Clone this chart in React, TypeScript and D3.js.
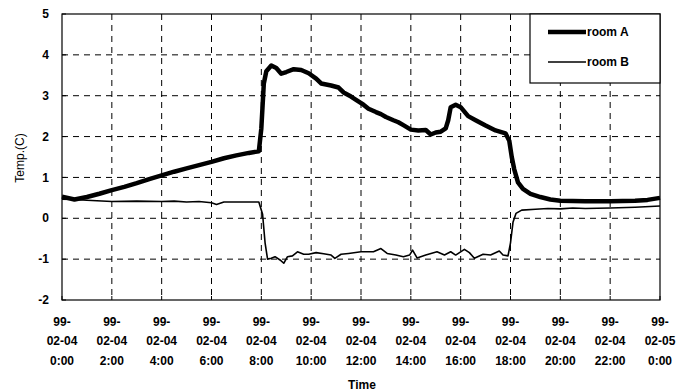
import React from "react";
import * as d3 from "d3";

const hoursA = [0,0.5,1,1.5,2,2.5,3,3.5,4,4.5,5,5.5,6,6.5,7,7.5,7.9,8.0,8.1,8.2,8.4,8.6,8.8,9.0,9.3,9.6,9.9,10.2,10.4,10.8,11.1,11.3,11.6,11.8,12.1,12.3,12.6,12.8,13.0,13.3,13.5,13.7,14.0,14.3,14.6,14.8,15.0,15.2,15.4,15.5,15.6,15.8,16.0,16.3,16.6,17.0,17.4,17.8,17.95,18.05,18.15,18.3,18.5,18.8,19.2,19.6,20,21,22,23,23.5,24];
const roomA = [0.53,0.46,0.52,0.6,0.69,0.77,0.86,0.96,1.05,1.14,1.22,1.3,1.38,1.47,1.54,1.6,1.64,2.2,3.3,3.6,3.74,3.68,3.54,3.58,3.65,3.63,3.55,3.42,3.3,3.25,3.2,3.08,2.98,2.9,2.78,2.68,2.6,2.55,2.48,2.4,2.35,2.28,2.17,2.15,2.16,2.05,2.1,2.12,2.2,2.4,2.72,2.78,2.72,2.5,2.4,2.27,2.15,2.08,1.9,1.5,1.2,0.88,0.72,0.6,0.52,0.46,0.43,0.42,0.42,0.43,0.45,0.5];

const hoursB = [0,0.5,1,2,3,4,4.5,5,5.5,6.0,6.2,6.5,7,7.5,7.9,8.05,8.15,8.25,8.4,8.55,8.75,8.9,9.05,9.25,9.45,9.7,9.9,10.2,10.5,10.8,10.95,11.2,11.5,12.0,12.5,12.8,13.05,13.4,13.7,13.95,14.07,14.25,14.6,15.05,15.35,15.6,15.8,16.15,16.35,16.55,16.9,17.2,17.55,17.7,17.9,18.0,18.1,18.22,18.45,19,19.5,20,20.5,21,22,23,24];
const roomB = [0.47,0.46,0.44,0.41,0.42,0.41,0.42,0.4,0.41,0.38,0.34,0.4,0.4,0.4,0.4,0.1,-0.6,-1.0,-0.98,-0.94,-1.02,-1.1,-0.94,-0.92,-0.82,-0.88,-0.88,-0.84,-0.87,-0.9,-0.98,-0.88,-0.86,-0.82,-0.82,-0.74,-0.86,-0.9,-0.94,-0.9,-0.78,-0.97,-0.9,-0.82,-0.9,-0.82,-0.9,-0.76,-0.84,-0.98,-0.88,-0.9,-0.8,-0.9,-0.92,-0.6,-0.1,0.12,0.2,0.22,0.24,0.23,0.25,0.24,0.25,0.27,0.3];

const xTickHours = [0,2,4,6,8,10,12,14,16,18,20,22,24];
const xTickYear = ["99-","99-","99-","99-","99-","99-","99-","99-","99-","99-","99-","99-","99-"];
const xTickDate = ["02-04","02-04","02-04","02-04","02-04","02-04","02-04","02-04","02-04","02-04","02-04","02-04","02-05"];
const xTickTime = ["0:00","2:00","4:00","6:00","8:00","10:00","12:00","14:00","16:00","18:00","20:00","22:00","0:00"];
const yTicks = [-2,-1,0,1,2,3,4,5];
const seriesNames = ["room A","room B"];

export default function App() {
  const left = 62, right = 660, top = 14, bottom = 300;
  const x = d3.scaleLinear().domain([0, 24]).range([left, right]);
  const y = d3.scaleLinear().domain([-2, 5]).range([bottom, top]);
  const lineA = d3.line<number>().x((_, i) => x(hoursA[i])).y((d) => y(d));
  const lineB = d3.line<number>().x((_, i) => x(hoursB[i])).y((d) => y(d));
  const font = "'Liberation Sans', Arial, sans-serif";

  return (
    <svg width={681} height={392} style={{ position: "absolute", left: 0, top: 0, background: "#fff" }} fontFamily={font}>
      <rect x={0} y={0} width={681} height={392} fill="#fff" />
      {/* grid */}
      {yTicks.filter((t) => t > -2 && t < 5).map((t) => (
        <line key={"gy" + t} x1={left} x2={right} y1={y(t)} y2={y(t)} stroke="#000" strokeWidth={1} strokeDasharray="6,5" />
      ))}
      {xTickHours.filter((h) => h > 0 && h < 24).map((h) => (
        <line key={"gx" + h} x1={x(h)} x2={x(h)} y1={top} y2={bottom} stroke="#000" strokeWidth={1} strokeDasharray="6,5" />
      ))}
      {/* frame */}
      <rect x={left} y={top} width={right - left} height={bottom - top} fill="none" stroke="#000" strokeWidth={1.2} />
      {/* ticks */}
      {xTickHours.map((h) => (
        <line key={"tx" + h} x1={x(h)} x2={x(h)} y1={bottom} y2={bottom - 4} stroke="#000" />
      ))}
      {yTicks.map((t) => (
        <line key={"ty" + t} x1={left} x2={left + 4} y1={y(t)} y2={y(t)} stroke="#000" />
      ))}
      {/* lines */}
      <path d={lineB(roomB) || ""} fill="none" stroke="#000" strokeWidth={1.6} strokeLinejoin="round" />
      <path d={lineA(roomA) || ""} fill="none" stroke="#000" strokeWidth={4.5} strokeLinejoin="round" />
      {/* y labels */}
      {yTicks.map((t) => (
        <text key={"ly" + t} x={49} y={y(t)} dy="0.35em" textAnchor="end" fontSize={12} fontWeight="bold">{t}</text>
      ))}
      {/* x labels */}
      {xTickHours.map((h, i) => (
        <g key={"lx" + h} fontSize={12} fontWeight="bold" textAnchor="middle">
          <text x={x(h)} y={326}>{xTickYear[i]}</text>
          <text x={x(h)} y={345}>{xTickDate[i]}</text>
          <text x={x(h)} y={365}>{xTickTime[i]}</text>
        </g>
      ))}
      <text x={362} y={389} textAnchor="middle" fontSize={12} fontWeight="bold">Time</text>
      <text transform={`translate(24,${158}) rotate(-90)`} textAnchor="middle" fontSize={12}>Temp.(C)</text>
      {/* legend */}
      <rect x={530} y={top} width={130} height={69} fill="#fff" stroke="#000" strokeWidth={1.2} />
      <line x1={548} x2={586} y1={32} y2={32} stroke="#000" strokeWidth={4.5} />
      <line x1={548} x2={586} y1={62} y2={62} stroke="#000" strokeWidth={1.6} />
      <text x={587} y={32} dy="0.35em" fontSize={12} fontWeight="bold">{seriesNames[0]}</text>
      <text x={587} y={62} dy="0.35em" fontSize={12} fontWeight="bold">{seriesNames[1]}</text>
    </svg>
  );
}
